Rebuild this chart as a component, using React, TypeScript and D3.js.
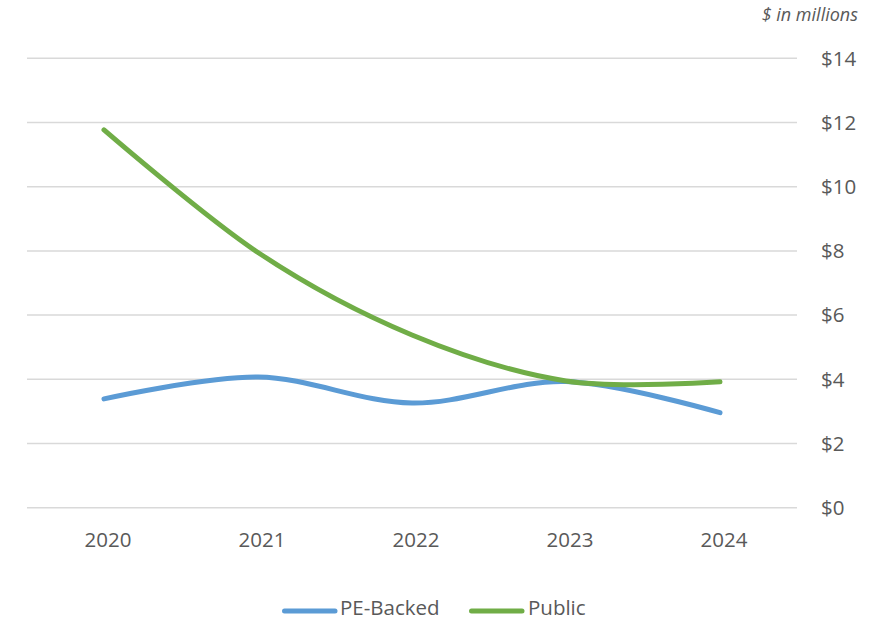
import React from "react";
import * as d3 from "d3";

const years = ["2020", "2021", "2022", "2023", "2024"];
const peBacked = [3.39, 4.07, 3.26, 3.93, 2.96];
const publicCo = [11.77, 7.95, 5.38, 3.95, 3.92];
const yTicks = [0, 2, 4, 6, 8, 10, 12, 14];

const W = 875;
const H = 620;
const FONT = "'Open Sans', 'Noto Sans', sans-serif";
const TEXT = "#595959";
const BLUE = "#5B9BD5";
const GREEN = "#70AD47";

export default function App() {
  const x = d3.scaleBand<string>().domain(years).range([27, 797]);
  const y = d3.scaleLinear().domain([0, 14]).range([507.7, 58.3]);
  const cx = (d: string) => (x(d) as number) + x.bandwidth() / 2;

  const line = d3
    .line<number>()
    .x((_, i) => cx(years[i]))
    .y((v) => y(v))
    .curve(d3.curveCardinal.tension(0));

  const series = [
    { name: "PE-Backed", values: peBacked, color: BLUE, lx: 282, tx: 340 },
    { name: "Public", values: publicCo, color: GREEN, lx: 469, tx: 528 },
  ];

  return (
    <svg
      width={W}
      height={H}
      style={{ position: "absolute", left: 0, top: 0, background: "#fff" }}
      fontFamily={FONT}
    >
      <text
        x={858}
        y={21}
        textAnchor="end"
        fontSize={18}
        fontStyle="italic"
        fill={TEXT}
      >
        $ in millions
      </text>
      {yTicks.map((t) => (
        <g key={t}>
          <line
            x1={27}
            x2={797}
            y1={y(t)}
            y2={y(t)}
            stroke="#d9d9d9"
            strokeWidth={1.5}
          />
          <text x={821} y={y(t) + 7.2} fontSize={20.5} fill={TEXT}>
            ${t}
          </text>
        </g>
      ))}
      {years.map((yr) => (
        <text
          key={yr}
          x={cx(yr) + 4}
          y={546.8}
          textAnchor="middle"
          fontSize={20.5}
          fill={TEXT}
        >
          {yr}
        </text>
      ))}
      {series.map((s) => (
        <path
          key={s.name}
          d={line(s.values) || ""}
          fill="none"
          stroke={s.color}
          strokeWidth={5}
          strokeLinecap="round"
          strokeLinejoin="round"
        />
      ))}
      {series.map((s) => (
        <g key={"lg" + s.name}>
          <line
            x1={s.lx + 2.5}
            x2={s.lx + 53}
            y1={611}
            y2={611}
            stroke={s.color}
            strokeWidth={5}
            strokeLinecap="round"
          />
          <text x={s.tx} y={615} fontSize={20.5} fill={TEXT}>
            {s.name}
          </text>
        </g>
      ))}
    </svg>
  );
}
